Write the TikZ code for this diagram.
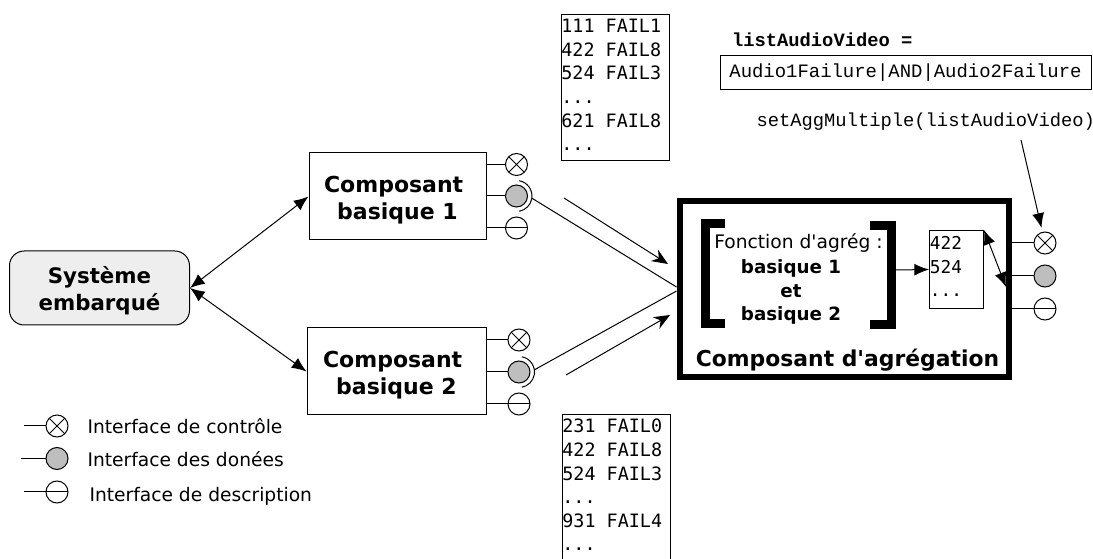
\documentclass[tikz,border=0pt]{standalone}
\usepackage{fontspec}
\setmainfont{DejaVu Sans}[Ligatures=TeXOff]
\newfontfamily\listfont{DejaVu Sans Mono}
\newfontfamily\codefont{Liberation Mono}
\usetikzlibrary{arrows.meta}
\tikzset{
    ifbase/.style={shape=circle,draw,minimum size=16.5pt,inner sep=0pt},
    ifctrl/.style={ifbase,path picture={\draw (path picture bounding box.north west) -- (path picture bounding box.south east) (path picture bounding box.south west) -- (path picture bounding box.north east);}},
    ifdata/.style={ifbase,fill=ifgray},
    ifdesc/.style={ifbase,path picture={\draw (path picture bounding box.west) -- (path picture bounding box.east);}},
    compbox/.style={shape=rectangle,draw,align=center,inner sep=0pt,font=\fontsize{16.5}{20.2}\selectfont\bfseries},
    listbox/.style={shape=rectangle,draw,anchor=north west,align=flush left,inner xsep=0.3pt,inner ysep=0pt,text width=80.4pt,minimum height=109.5pt,font=\fontsize{13.8}{17.7}\selectfont\listfont},
    legendtext/.style={anchor=west,inner sep=0pt,font=\fontsize{14}{17}\selectfont},
    codetext/.style={inner sep=0pt,font=\fontsize{14.1}{17}\selectfont\codefont},
    arrowline/.style={-{Latex[length=11pt,width=9pt]}},
    bothline/.style={{Latex[length=11pt,width=9pt]}-{Latex[length=11pt,width=9pt]}},
    flowline/.style={-{Stealth[length=12pt,width=10pt]}}
}
\begin{document}
\begin{tikzpicture}[x=0.75pt,y=-0.75pt,line width=0.75pt]
    \definecolor{ifgray}{RGB}{190,190,190}
    \definecolor{sysgray}{RGB}{238,238,238}
    \useasboundingbox (0,0) rectangle (1093,559);
    \node[shape=rectangle,rounded corners=11pt,draw,fill=sysgray,align=center,minimum width=135pt,minimum height=55.5pt,inner sep=0pt,font=\fontsize{16}{20.2}\selectfont\bfseries] (sys) at (99.5,288) {\rule{0pt}{17pt}Système\\embarqué};
    \node[compbox,minimum width=132.75pt,minimum height=65.25pt] (bas1) at (397.5,196.5) {\rule{0pt}{17pt}Composant~\mbox{}\\basique 1};
    \node[compbox,minimum width=134.25pt,minimum height=65.25pt] (bas2) at (396.5,371.5) {\rule{0pt}{17pt}Composant~\mbox{}\\basique 2};
    \node[ifctrl] (ctrl1) at (516.5,164.5) {};
    \node[ifdata] (data1) at (516.5,196) {};
    \node[ifdesc] (desc1) at (516.5,228) {};
    \node[ifctrl] (ctrl2) at (519,340) {};
    \node[ifdata] (data2) at (519,372) {};
    \node[ifdesc] (desc2) at (519,404) {};
    \node[listbox] (list1) at (560.5,14.5) {111 FAIL1\\422 FAIL8\\524 FAIL3\\...\\621 FAIL8\\...\rule[-4.5pt]{0pt}{4.5pt}};
    \node[listbox] (list2) at (561.5,414.5) {231 FAIL0\\422 FAIL8\\524 FAIL3\\...\\931 FAIL4\\...\rule[-4.5pt]{0pt}{4.5pt}};
    \node[shape=rectangle,draw,line width=5.2pt,minimum width=246.75pt,minimum height=132pt] (comp) at (844.5,289) {};
    \node[inner sep=0pt,font=\fontsize{14}{17}\selectfont] (fonc) at (798.5,243) {Fonction d'agrég :};
    \node[align=center,inner sep=0pt,font=\fontsize{13.7}{17.6}\selectfont\bfseries] (args) at (791,292) {basique 1\\et\\basique 2};
    \node[inner sep=0pt,font=\fontsize{16.4}{18}\selectfont\bfseries] (compname) at (847.5,360) {Composant d'agrégation};
    \node[shape=rectangle,draw,anchor=north west,align=flush left,inner xsep=0.3pt,inner ysep=0pt,text width=39.9pt,minimum height=58.5pt,font=\fontsize{13.3}{17.8}\selectfont\listfont] (res) at (929,230) {422\\524\\...\rule[-4.5pt]{0pt}{4.5pt}};
    \node[ifctrl] (ctrl3) at (1045,243) {};
    \node[ifdata] (data3) at (1045,276) {};
    \node[ifdesc] (desc3) at (1045,309) {};
    \node[codetext,anchor=west] (listname) at (731.5,40) {\bfseries listAudioVideo =};
    \node[shape=rectangle,draw,minimum width=278.25pt,minimum height=25.5pt,inner sep=0pt,font=\fontsize{14.2}{17}\selectfont\codefont] (listval) at (905.5,73) {Audio1Failure|AND|Audio2Failure};
    \node[codetext,anchor=west] (setagg) at (756,122) {setAggMultiple(listAudioVideo)};
    \node[ifctrl] (legc) at (57,426) {};
    \node[ifdata] (legd) at (57,458.5) {};
    \node[ifdesc] (lege) at (57,492) {};
    \node[legendtext] (legctext) at (87,426) {Interface de contrôle};
    \node[legendtext] (legdtext) at (87,459) {Interface des donées};
    \node[legendtext] (legetext) at (89,496) {Interface de description};
    \coordinate (legcend) at (24,426);
    \coordinate (legdend) at (21,458.5);
    \coordinate (legeend) at (24,492);
    \coordinate (flow1a) at (564,198);
    \coordinate (flow1b) at (668,264);
    \coordinate (flow2a) at (566,375);
    \coordinate (flow2b) at (670,315);
    \coordinate (brk) at (896,270);
    \coordinate (inner) at (1006,287);
    \coordinate (aggend) at (1021,140);
    \draw[bothline] (bas1.west) -- (sys.east);
    \draw[bothline] (bas2.west) -- (sys.east);
    \foreach \i in {ctrl1,data1,desc1} { \draw (bas1.east |- \i) -- (\i); }
    \foreach \i in {ctrl2,data2,desc2} { \draw (bas2.east |- \i) -- (\i); }
    \foreach \i in {ctrl3,data3,desc3} { \draw (comp.east |- \i) -- (\i); }
    \draw ([shift={(-80:15.5)}]data1.center) arc (-80:80:15.5);
    \draw ([shift={(-80:15.5)}]data2.center) arc (-80:80:15.5);
    \draw ([shift={(8:15.5)}]data1.center) -- ([yshift=1.5pt]comp.west);
    \draw ([shift={(-8:15.5)}]data2.center) -- ([yshift=-1.5pt]comp.west);
    \draw[flowline] (flow1a) -- (flow1b);
    \draw[flowline] (flow2a) -- (flow2b);
    \draw[line width=6.75pt] (725,223.5) -| (705,323.5) -- (725,323.5);
    \draw[line width=6.75pt] (870,225.5) -| (891,324.5) -- (870,324.5);
    \draw[arrowline] (brk) -- (res.west);
    \draw[bothline] (res.north east) -- (inner);
    \draw[arrowline,shorten >=3pt] (aggend) -- (ctrl3.103);
    \draw (legcend) -- (legc);
    \draw (legdend) -- (legd);
    \draw (legeend) -- (lege);
\end{tikzpicture}
\end{document}
